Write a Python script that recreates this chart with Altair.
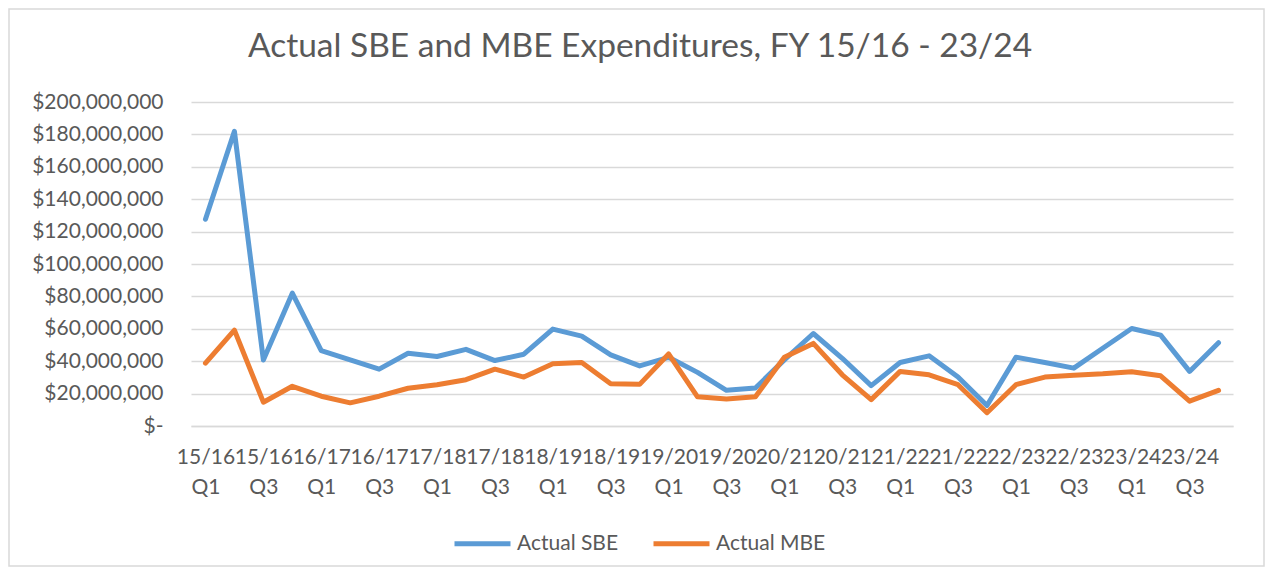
import altair as alt
import pandas as pd

years = ["15/16", "16/17", "17/18", "18/19", "19/20", "20/21", "21/22", "22/23", "23/24"]
quarters = ["Q1", "Q2", "Q3", "Q4"]
categories = [f"{y} {q}" for y in years for q in quarters]

sbe = [127.6, 181.9, 40.8, 82.0, 46.5, 40.8, 35.1, 44.9, 42.9, 47.3, 40.4, 44.3,
       59.8, 55.5, 43.9, 37.1, 42.4, 33.1, 22.0, 23.5, 40.8, 57.1, 41.8, 24.9,
       39.2, 43.3, 30.2, 12.7, 42.4, 39.2, 35.7, 48.0, 60.2, 56.1, 33.7, 51.4]
mbe = [38.8, 59.2, 14.7, 24.5, 18.4, 14.3, 18.4, 23.3, 25.5, 28.6, 35.1, 30.2,
       38.4, 39.2, 26.1, 25.7, 44.5, 18.0, 16.7, 18.0, 42.4, 51.0, 31.6, 16.3,
       33.7, 31.6, 25.5, 8.2, 25.5, 30.2, 31.4, 32.2, 33.5, 31.0, 15.3, 22.0]

series_names = ["Actual SBE", "Actual MBE"]
series_colors = ["#5B9BD5", "#ED7D31"]
y_ticks = [i * 20_000_000 for i in range(11)]

rows = []
for name, vals in zip(series_names, [sbe, mbe]):
    for c, v in zip(categories, vals):
        rows.append({"Quarter": c, "Series": name, "Value": v * 1_000_000})
df = pd.DataFrame(rows)

FONT = "Lato"
GRID = "#D9D9D9"
TEXT = "#595959"

lines = alt.Chart(df).mark_line(strokeWidth=5, strokeJoin="round", strokeCap="round").encode(
    x=alt.X("Quarter:N", sort=categories, title=None,
            scale=alt.Scale(paddingInner=0, paddingOuter=0.5),
            axis=alt.Axis(values=categories[::2], labelAngle=0, ticks=False,
                          labelExpr="split(datum.value, ' ')",
                          labelFontSize=21, labelColor=TEXT, labelFont=FONT,
                          labelLineHeight=30, labelPadding=20,
                          domainColor=GRID, domainWidth=1.5, grid=False,
                          labelOverlap=False, labelBound=False)),
    y=alt.Y("Value:Q", title=None,
            scale=alt.Scale(domain=[0, 200_000_000], nice=False),
            axis=alt.Axis(values=y_ticks, ticks=False, domain=False,
                          labelExpr="datum.value == 0 ? '$-\u2007\u2007' : '$' + format(datum.value, ',')",
                          labelFontSize=21, labelColor=TEXT, labelFont=FONT,
                          labelPadding=28, gridColor=GRID, gridWidth=1.5)),
    color=alt.Color("Series:N", sort=series_names,
                    scale=alt.Scale(domain=series_names, range=series_colors),
                    legend=alt.Legend(title=None, orient="none", direction="horizontal",
                                      legendX=261, legendY=411,
                                      symbolType="stroke", symbolSize=3136,
                                      symbolStrokeWidth=5,
                                      labelFontSize=21, labelColor=TEXT, labelFont=FONT,
                                      labelOffset=4, columnPadding=24)),
)

border = alt.Chart(pd.DataFrame({"b": [0]})).mark_rect(
    fill=None, stroke=GRID, strokeWidth=1.5
).encode(x=alt.value(-182), x2=alt.value(1073), y=alt.value(-93), y2=alt.value(464))

chart = alt.layer(border, lines).properties(
    width=1042, height=324,
    title=alt.Title("Actual SBE and MBE Expenditures, FY 15/16 - 23/24",
                    fontSize=33.5, font=FONT, color=TEXT, fontWeight="normal",
                    anchor="middle", dx=-72, offset=-56),
    autosize=alt.AutoSizeParams(type="none"),
    padding={"left": 183, "top": 94, "right": 32, "bottom": 141},
).configure_view(stroke=None)

chart.save("out.html", embed_options={"renderer": "svg", "actions": False})
